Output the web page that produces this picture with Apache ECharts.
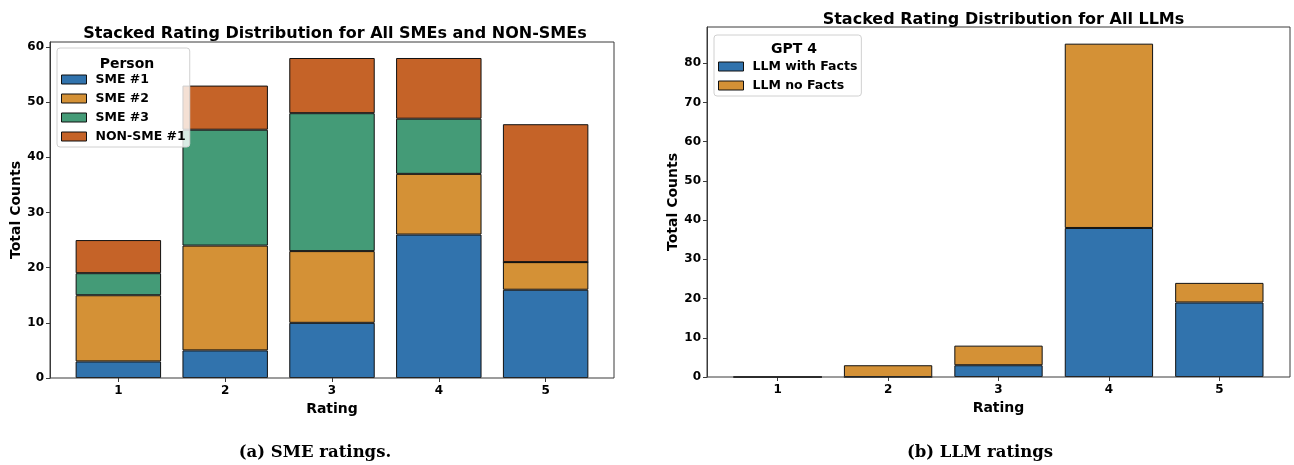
<!DOCTYPE html>
<html>
<head>
<meta charset="utf-8">
<script src="https://cdn.jsdelivr.net/npm/echarts@6/dist/echarts.min.js"></script>
<style>
html,body{margin:0;padding:0;background:#fff;}
#c{width:1294px;height:465px;}
</style>
</head>
<body>
<div id="c"></div>
<script>
// ---- data ----
const ratings = ['1', '2', '3', '4', '5'];
const yTicksSME = [0, 10, 20, 30, 40, 50, 60];
const yTicksLLM = [0, 10, 20, 30, 40, 50, 60, 70, 80];
const sme1 = [3, 5, 10, 26, 16];
const sme2 = [12, 19, 13, 11, 5];
const sme3 = [4, 21, 25, 10, 0];
const nonSme1 = [6, 8, 10, 11, 25];
const llmWithFacts = [0, 0, 3, 38, 19];
const llmNoFacts = [0, 3, 5, 47, 5];

// ---- styling / layout ----
const FONT = 'DejaVu Sans';
const C_BLUE = '#3173ad', C_ORANGE = '#d49136', C_GREEN = '#449b77', C_RED = '#c56328';
const SPINE = '#3a3a3a';

// outer frames (matplotlib axes boxes)
const F0 = {left: 50, top: 42, width: 564, height: 336};
const F1 = {left: 707, top: 27, width: 583, height: 350};
// matplotlib x-limits span 5.28 category bands (0.36 .. 5.64)
const SPAN = 5.28, PAD = 0.14;
function inner(f) {
  const band = f.width / SPAN;
  return {left: f.left + PAD * band, top: f.top, width: 5 * band, height: f.height, off: PAD * band};
}
const D0 = inner(F0), D1 = inner(F1);

function xAxis(gi) {
  return {
    type: 'category', gridIndex: gi, data: ratings, boundaryGap: true,
    name: 'Rating', nameLocation: 'middle', nameGap: 22,
    nameTextStyle: {fontFamily: FONT, fontWeight: 'bold', fontSize: 14, color: '#000'},
    axisLine: {show: false},
    axisTick: {show: true, alignWithLabel: true, length: 4, lineStyle: {color: SPINE}},
    axisLabel: {fontFamily: FONT, fontWeight: 'bold', fontSize: 12, color: '#000', margin: 7},
    splitLine: {show: false}
  };
}
function yAxis(gi, max, ticks, gap, off) {
  return {
    type: 'value', gridIndex: gi, min: 0, max: max, offset: off,
    name: 'Total Counts', nameLocation: 'middle', nameGap: gap, nameRotate: 90,
    nameTextStyle: {fontFamily: FONT, fontWeight: 'bold', fontSize: 14, color: '#000'},
    axisLine: {show: true, lineStyle: {color: SPINE, width: 1}},
    axisTick: {show: true, length: 4, customValues: ticks, lineStyle: {color: SPINE}},
    axisLabel: {customValues: ticks, fontFamily: FONT, fontWeight: 'bold', fontSize: 12, color: '#000', margin: 6},
    splitLine: {show: false}
  };
}
function bar(name, vals, color, ai, stack) {
  return {
    type: 'bar', name: name, xAxisIndex: ai, yAxisIndex: ai, stack: stack,
    barWidth: '80%', data: vals,
    itemStyle: {color: color, borderColor: '#111', borderWidth: 1},
    emphasis: {disabled: true}, z: 2
  };
}
const legendText = {fontFamily: FONT, fontWeight: 'bold', fontSize: 12.5, color: '#000', lineHeight: 12, padding: [0, 0, 0, 4]};
const titleStyle = {fontFamily: FONT, fontWeight: 'bold', fontSize: 16, color: '#000'};
const legTitleStyle = {fontFamily: FONT, fontWeight: 'bold', fontSize: 14, color: '#000'};
const capStyle = {fontFamily: 'DejaVu Serif', fontWeight: 'bold', fontSize: 16.5, color: '#000'};

function frameGrid(f) {
  return {left: f.left, top: f.top, width: f.width, height: f.height, show: true,
          borderColor: SPINE, borderWidth: 1, backgroundColor: 'transparent', z: 3};
}
function dataGrid(d) {
  return {left: d.left, top: d.top, width: d.width, height: d.height, show: false};
}

const option = {
  animation: false,
  backgroundColor: '#fff',
  grid: [dataGrid(D0), dataGrid(D1), frameGrid(F0), frameGrid(F1)],
  title: [
    {text: 'Stacked Rating Distribution for All SMEs and NON-SMEs', left: F0.left + F0.width / 2 - 2, top: 21, textAlign: 'center', textStyle: titleStyle},
    {text: 'Stacked Rating Distribution for All LLMs', left: F1.left + F1.width / 2, top: 7, textAlign: 'center', textStyle: titleStyle},
    {text: 'Person', left: 122, top: 52, textAlign: 'center', textStyle: legTitleStyle, z: 20},
    {text: 'GPT 4', left: 789, top: 37, textAlign: 'center', textStyle: legTitleStyle, z: 20},
    {text: '(a) SME ratings.', left: 310, top: 439, textAlign: 'center', textStyle: capStyle},
    {text: '(b) LLM ratings', left: 975, top: 439, textAlign: 'center', textStyle: capStyle}
  ],
  legend: [
    {
      data: ['SME #1', 'SME #2', 'SME #3', 'NON-SME #1'],
      orient: 'vertical', left: 57, top: 48, padding: [25, 4, 4, 4],
      itemWidth: 25, itemHeight: 9, itemGap: 6, icon: 'rect',
      backgroundColor: 'rgba(255,255,255,0.8)', borderColor: '#d0d0d0', borderWidth: 1, borderRadius: 3,
      itemStyle: {borderColor: '#111', borderWidth: 1},
      textStyle: legendText, selectedMode: false, z: 10
    },
    {
      data: ['LLM with Facts', 'LLM no Facts'],
      orient: 'vertical', left: 714, top: 35, padding: [25, 4, 4, 4],
      itemWidth: 25, itemHeight: 9, itemGap: 6, icon: 'rect',
      backgroundColor: 'rgba(255,255,255,0.8)', borderColor: '#d0d0d0', borderWidth: 1, borderRadius: 3,
      itemStyle: {borderColor: '#111', borderWidth: 1},
      textStyle: legendText, selectedMode: false, z: 10
    }
  ],
  xAxis: [xAxis(0), xAxis(1)],
  yAxis: [yAxis(0, 60.9, yTicksSME, 23, D0.off), yAxis(1, 89.25, yTicksLLM, 23, D1.off)],
  series: [
    bar('SME #1', sme1, C_BLUE, 0, 'a'),
    bar('SME #2', sme2, C_ORANGE, 0, 'a'),
    bar('SME #3', sme3, C_GREEN, 0, 'a'),
    bar('NON-SME #1', nonSme1, C_RED, 0, 'a'),
    bar('LLM with Facts', llmWithFacts, C_BLUE, 1, 'b'),
    bar('LLM no Facts', llmNoFacts, C_ORANGE, 1, 'b')
  ]
};
const chart = echarts.init(document.getElementById('c'), null, {renderer: 'canvas'});
chart.setOption(option);
</script>
</body>
</html>
